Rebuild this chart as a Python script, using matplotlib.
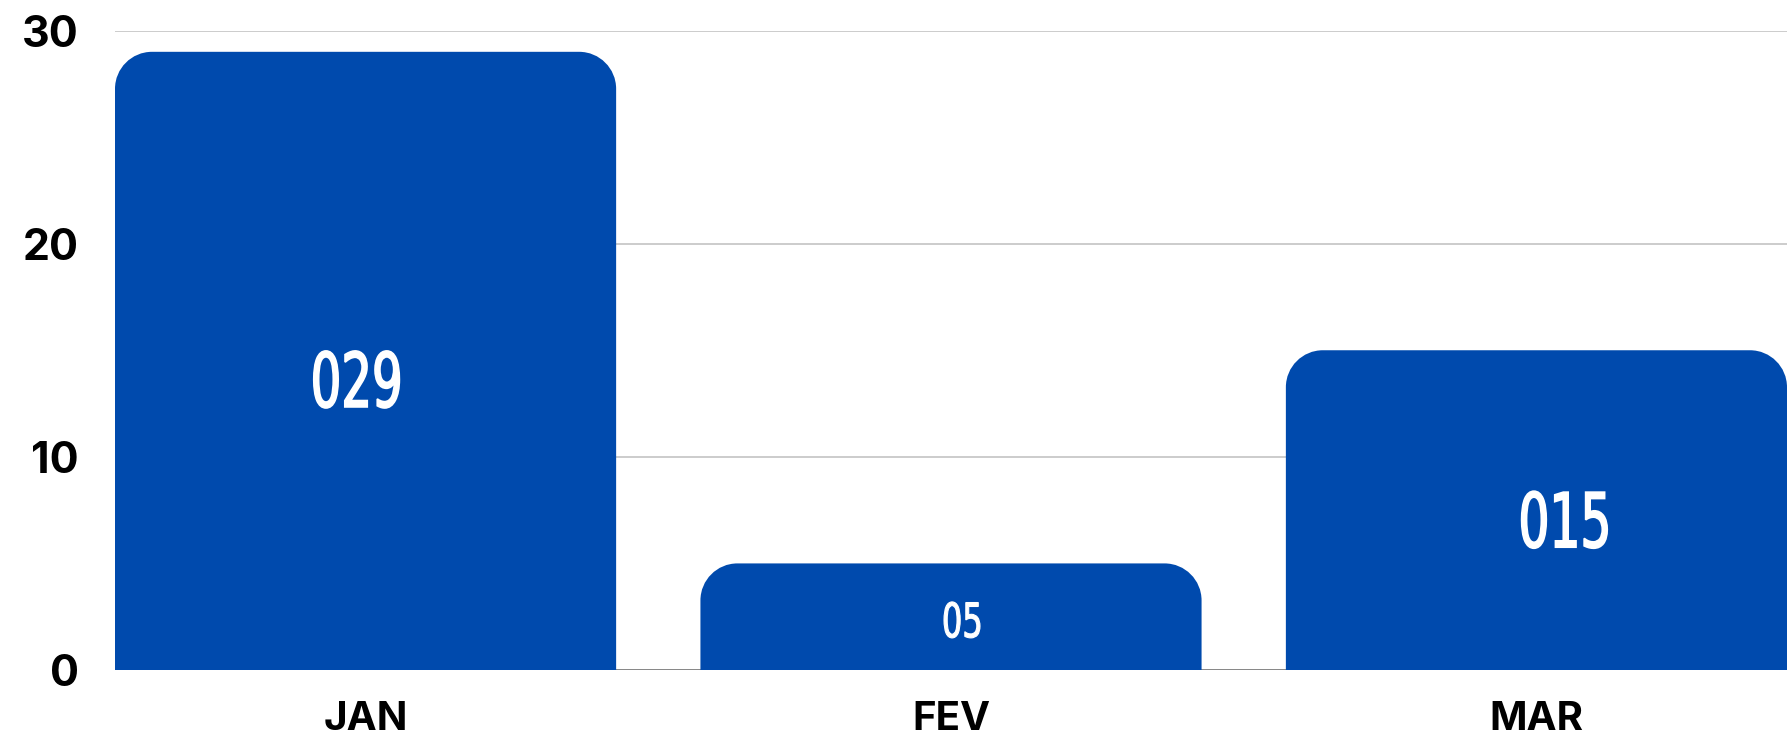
import matplotlib
matplotlib.use('Agg')
import matplotlib.pyplot as plt
from matplotlib.path import Path
from matplotlib.patches import PathPatch
from matplotlib.textpath import TextPath
from matplotlib.font_manager import FontProperties
from matplotlib.transforms import Affine2D, ScaledTranslation

# dados
months = ['JAN', 'FEV', 'MAR']
values = [29, 5, 15]
labels = ['029', '05', '015']
yticks = [0, 10, 20, 30]

blue = '#004aad'

fig = plt.figure(figsize=(17.87, 7.46), dpi=100)
ax = fig.add_axes([115 / 1787, 76 / 746, 1 - 115 / 1787, (670 - 30.5) / 746])

width = 0.856
bars = ax.bar(range(len(months)), values, width=width, color=blue, zorder=3)
ax.set_xlim(-width / 2, len(months) - 1 + width / 2)
ax.set_ylim(0, 30)

# cantos arredondados em cima (raio ~37 px)
fig.canvas.draw()
px_x = (ax.get_xlim()[1] - ax.get_xlim()[0]) / ax.bbox.width
px_y = (ax.get_ylim()[1] - ax.get_ylim()[0]) / ax.bbox.height
r = 37
k = 0.5523
for b in bars:
    x0, w, h = b.get_x(), b.get_width(), b.get_height()
    rx, ry = r * px_x, r * px_y
    verts = [(x0, 0), (x0, h - ry),
             (x0, h - ry + k * ry), (x0 + rx - k * rx, h), (x0 + rx, h),
             (x0 + w - rx, h),
             (x0 + w - rx + k * rx, h), (x0 + w, h - ry + k * ry), (x0 + w, h - ry),
             (x0 + w, 0), (x0, 0)]
    codes = [Path.MOVETO, Path.LINETO,
             Path.CURVE4, Path.CURVE4, Path.CURVE4,
             Path.LINETO,
             Path.CURVE4, Path.CURVE4, Path.CURVE4,
             Path.LINETO, Path.CLOSEPOLY]
    ax.add_patch(PathPatch(Path(verts, codes), fc=blue, ec='none', zorder=3))
    b.set_visible(False)

# rotulos estreitos dentro das barras
fp = FontProperties(family='DejaVu Sans')
heights = [57, 36, 57]
shift_px = [-9, 11, 28]
for i, (v, s) in enumerate(zip(values, labels)):
    tp = TextPath((0, 0), s, size=1, prop=fp)
    ext = tp.get_extents()
    h_px = heights[i]
    sy = h_px / ext.height
    sx = 0.5 * h_px * len(s) / ext.width
    cx, cy = ext.x0 + ext.width / 2, ext.y0 + ext.height / 2
    tr = (Affine2D().translate(-cx, -cy).scale(sx, sy).translate(shift_px[i], 0)
          + ScaledTranslation(i, v * 0.47, ax.transData))
    ax.add_patch(PathPatch(tp, transform=tr, fc='white', ec='white',
                           lw=1.3 if h_px > 50 else 0.8, zorder=5))
ax.set_xlim(-width / 2, len(months) - 1 + width / 2)
ax.set_ylim(0, 30)

ax.set_yticks(yticks)
ax.set_xticks(range(len(months)))
ax.set_xticklabels(months, fontsize=29, fontweight='bold', family=['Inter', 'DejaVu Sans'])
ax.set_yticklabels([str(t) for t in yticks], fontsize=31, fontweight='bold', family=['Inter', 'DejaVu Sans'])
ax.tick_params(axis='y', length=0, pad=26)
ax.tick_params(axis='x', length=0, pad=22)

ax.yaxis.grid(True, color='#cccccc', linewidth=1.4, zorder=0)
ax.set_axisbelow(True)
ax.axhline(0, color='#888888', linewidth=1.4, zorder=1)
for sp in ax.spines.values():
    sp.set_visible(False)

fig.savefig('out.png', dpi=100)
